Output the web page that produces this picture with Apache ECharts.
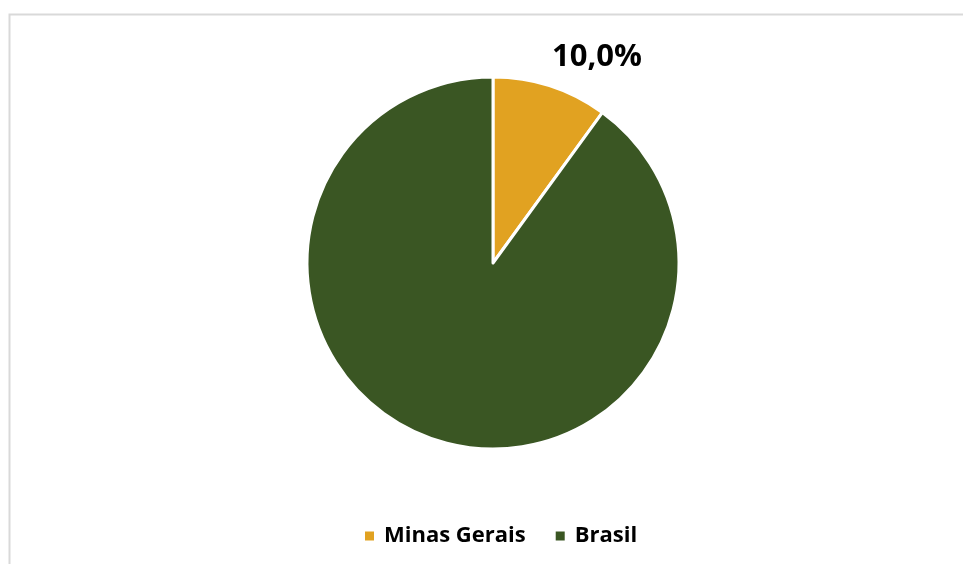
<!DOCTYPE html>
<html>
<head>
<meta charset="utf-8">
<script src="https://cdn.jsdelivr.net/npm/echarts@6/dist/echarts.min.js"></script>
<style>
  html, body { margin: 0; padding: 0; background: #fff; }
  #chart { width: 963px; height: 564px; }
</style>
</head>
<body>
<div id="chart"></div>
<script>
// Share of the total: Minas Gerais vs. rest of Brasil
const categories = ['Minas Gerais', 'Brasil'];
const shares = [10.0, 90.0];
const colors = ['#E1A221', '#3A5623'];
const labelled = ['Minas Gerais'];

const chart = echarts.init(document.getElementById('chart'), null, { renderer: 'canvas' });

chart.setOption({
  animation: false,
  backgroundColor: '#ffffff',
  graphic: [{
    type: 'rect',
    shape: { x: 9.5, y: 14.5, width: 1000, height: 600 },
    style: { fill: 'none', stroke: '#d9d9d9', lineWidth: 2 },
    silent: true
  }],
  legend: {
    data: categories,
    top: 520,
    left: 358,
    icon: 'rect',
    itemWidth: 11,
    itemHeight: 11,
    itemGap: 28,
    textStyle: { fontFamily: 'Open Sans', fontWeight: 'bold', fontSize: 22, color: '#000', padding: [0, 0, 0, 4] }
  },
  series: [{
    type: 'pie',
    center: [493, 263],
    radius: 186,
    startAngle: 90,
    clockwise: true,
    itemStyle: { borderColor: '#fff', borderWidth: 3 },
    labelLine: { show: false },
    label: {
      show: true,
      position: 'outside',
      fontFamily: 'Open Sans',
      fontWeight: 'bold',
      fontSize: 31,
      color: '#000',
      formatter: p => labelled.includes(p.name) ? p.value.toFixed(1).replace('.', ',') + '%' : ''
    },
    labelLayout: p => (p.dataIndex === 0 ? { x: 597, y: 57, align: 'center', verticalAlign: 'middle' } : {}),
    data: categories.map((c, i) => ({ name: c, value: shares[i], itemStyle: { color: colors[i] } }))
  }]
});
</script>
</body>
</html>
